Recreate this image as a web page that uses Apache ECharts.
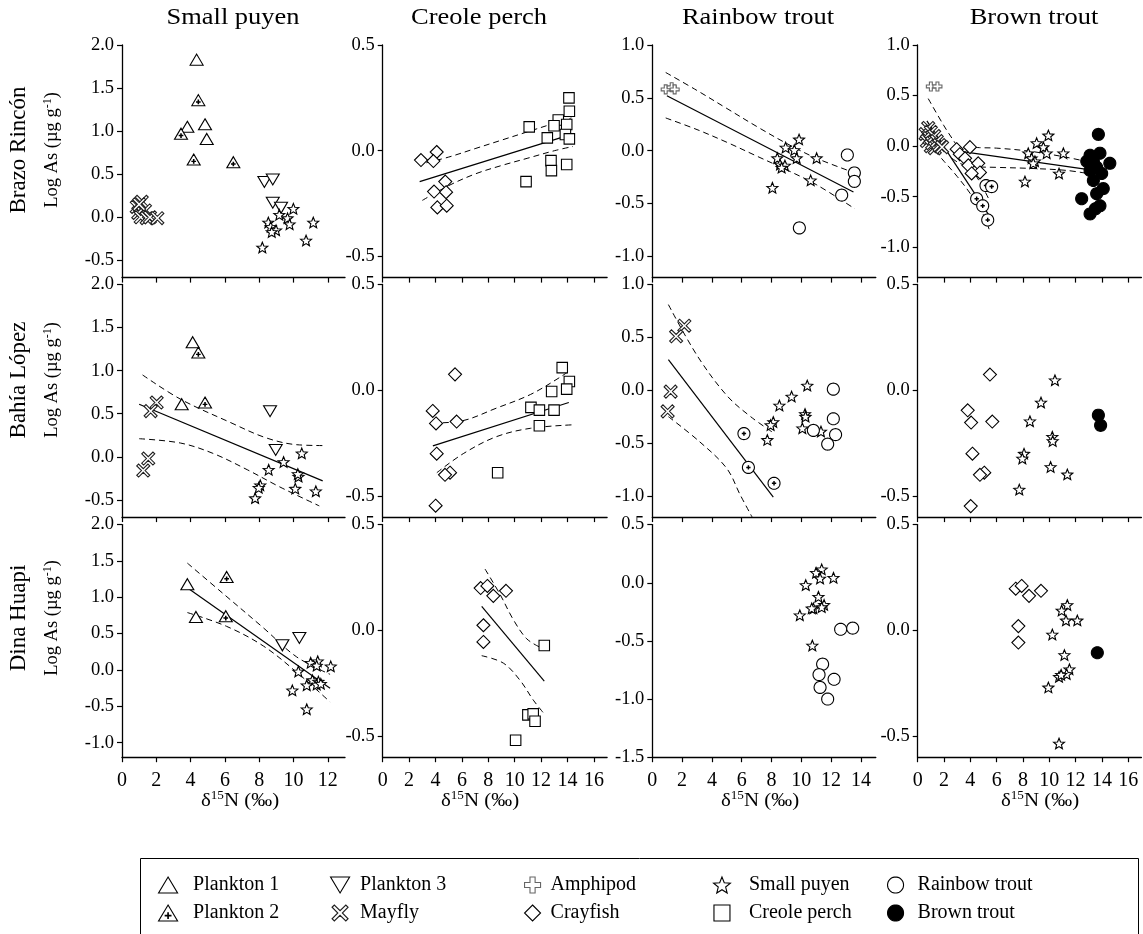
<!DOCTYPE html>
<html><head><meta charset="utf-8">
<script src="https://cdn.jsdelivr.net/npm/echarts@6.0.0/dist/echarts.min.js"></script>
<style>html,body{margin:0;padding:0;background:#fff}#c{width:1143px;height:934px}</style>
</head><body><div id="c"></div>
<script>
// ---------------- DATA (δ15N ‰, Log As) ----------------
// Brazo Rincón
const BR_SP_mayfly = [[0.86,0.12],[1.15,0.18],[0.95,0.05],[1.34,0.08],[1.09,0.0],[1.44,-0.01],[1.63,0.0],[2.06,-0.01],[1.0,0.15]];
const BR_SP_plankton1 = [[4.35,1.83],[3.81,1.05],[4.84,1.08],[4.94,0.91]];
const BR_SP_plankton2 = [[4.45,1.36],[3.44,0.97],[4.18,0.67],[6.49,0.64]];
const BR_SP_plankton3 = [[8.3,0.41],[8.79,0.44],[8.79,0.17],[9.27,0.11]];
const BR_SP_puyen = [[9.99,0.10],[9.17,0.03],[9.65,-0.01],[9.77,-0.08],[8.53,-0.06],[8.67,-0.11],[8.98,-0.15],[8.73,-0.17],[11.15,-0.06],[10.73,-0.27],[8.18,-0.35]];

const BR_CP_crayfish = [[2.9,-0.044],[4.09,-0.006],[3.84,-0.049],[4.74,-0.146],[3.89,-0.193],[4.8,-0.196],[4.14,-0.268],[4.85,-0.26]];
const BR_CP_perch = [[11.1,0.113],[10.86,-0.146],[14.11,0.25],[14.14,0.187],[13.3,0.145],[12.98,0.118],[13.94,0.124],[12.47,0.061],[13.84,0.077],[14.14,0.056],[12.75,-0.047],[12.78,-0.094],[13.94,-0.065]];
const BR_CP_fit = [[2.8,-0.146],[14.3,0.077]];
const BR_CP_upper = [[3.3,-0.057],[5,-0.03],[7,0.01],[9,0.05],[11,0.09],[13,0.13],[14.3,0.155]];
const BR_CP_lower = [[3.0,-0.235],[5,-0.165],[7,-0.11],[9,-0.07],[11,-0.035],[13,0.0],[14.4,0.02]];

const BR_RT_amphipod = [[0.9,0.58],[1.3,0.6],[1.5,0.58]];
const BR_RT_puyen = [[9.85,0.107],[8.95,0.03],[9.53,0.007],[8.39,-0.07],[9.69,-0.07],[11.03,-0.07],[8.57,-0.13],[8.9,-0.14],[8.68,-0.16],[10.63,-0.28],[8.06,-0.35]];
const BR_RT_trout = [[13.09,-0.04],[13.56,-0.21],[13.56,-0.29],[12.71,-0.42],[9.87,-0.73]];
const BR_RT_fit = [[0.98,0.52],[13.5,-0.39]];
const BR_RT_upper = [[0.9,0.74],[3,0.57],[5,0.40],[7,0.23],[9,0.07],[11,-0.07],[13.6,-0.21]];
const BR_RT_lower = [[0.9,0.31],[3,0.20],[5,0.08],[7,-0.05],[9,-0.18],[11,-0.32],[13.6,-0.55]];

const BR_BT_amphipod = [[1.0,0.59],[1.5,0.59]];
const BR_BT_mayfly = [[0.6,0.12],[0.7,0.05],[0.8,0.18],[0.9,0.08],[1.0,0.0],[1.0,0.14],[1.1,0.03],[1.25,0.1],[1.3,-0.02],[1.45,0.05],[1.65,0.01],[1.85,-0.01]];
const BR_BT_crayfish = [[2.96,-0.03],[3.97,-0.01],[3.2,-0.08],[3.6,-0.12],[3.85,-0.19],[4.6,-0.17],[4.73,-0.26],[4.1,-0.27]];
const BR_BT_juvenile = [[5.19,-0.39],[5.62,-0.40],[4.48,-0.52],[4.94,-0.59],[5.32,-0.73]];
const BR_BT_puyen = [[9.93,0.106],[9.04,0.03],[9.55,-0.01],[8.4,-0.07],[9.8,-0.07],[11.07,-0.07],[8.66,-0.12],[8.91,-0.15],[8.78,-0.17],[10.74,-0.27],[8.15,-0.35]];
const BR_BT_brown = [[13.73,0.116],[13.1,-0.09],[13.85,-0.07],[12.85,-0.15],[13.35,-0.15],[14.6,-0.17],[13.6,-0.21],[13.1,-0.24],[13.98,-0.27],[13.35,-0.34],[14.1,-0.42],[13.6,-0.47],[12.46,-0.52],[13.85,-0.59],[13.1,-0.67],[13.5,-0.62]];
const BR_BT_fitA = [[0.7,0.25],[5.5,-0.70]];
const BR_BT_upperA = [[0.8,0.47],[2,0.2],[3,0.0],[4,-0.2],[5,-0.42],[5.5,-0.55]];
const BR_BT_lowerA = [[0.8,0.03],[2,-0.15],[3,-0.3],[4,-0.47],[5,-0.68],[5.5,-0.85]];
const BR_BT_fitB = [[2.6,-0.04],[13.4,-0.24]];
const BR_BT_upperB = [[2.8,0.0],[4.7,-0.015],[6,-0.02],[8.5,-0.05],[11.3,-0.11],[13.1,-0.16]];
const BR_BT_lowerB = [[2.6,-0.12],[3.2,-0.17],[4,-0.2],[6,-0.21],[8.5,-0.22],[11.3,-0.24],[13.35,-0.28]];

// Bahía López
const BL_SP_mayfly = [[2.02,0.63],[1.67,0.53],[1.53,-0.02],[1.24,-0.16]];
const BL_SP_plankton1 = [[4.12,1.33],[3.48,0.61]];
const BL_SP_plankton2 = [[4.45,1.21],[4.84,0.63]];
const BL_SP_plankton3 = [[8.63,0.53],[8.96,0.08]];
const BL_SP_puyen = [[10.48,0.04],[9.42,-0.06],[8.55,-0.15],[10.29,-0.23],[10.25,-0.2],[8.06,-0.33],[7.97,-0.36],[10.1,-0.37],[11.3,-0.4],[7.76,-0.48]];
const BL_SP_fit = [[1.0,0.61],[11.7,-0.28]];
const BL_SP_upper = [[1.2,0.95],[3.4,0.67],[6.3,0.40],[8.4,0.22],[10.2,0.14],[11.9,0.13]];
const BL_SP_lower = [[1.0,0.21],[3.4,0.16],[5.3,0.04],[7.3,-0.15],[9.2,-0.35],[11.5,-0.57]];

const BL_CP_crayfish = [[5.48,0.075],[3.79,-0.098],[4.04,-0.157],[5.6,-0.148],[4.09,-0.30],[5.1,-0.39],[4.72,-0.40],[4.01,-0.546]];
const BL_CP_perch = [[13.6,0.107],[14.14,0.041],[13.94,0.005],[12.8,-0.006],[11.23,-0.081],[11.87,-0.094],[12.98,-0.094],[11.87,-0.168],[8.71,-0.39]];
const BL_CP_fit = [[3.8,-0.263],[14.1,-0.058]];
const BL_CP_upper = [[3.8,-0.155],[6,-0.145],[8.6,-0.085],[11.2,-0.02],[13.4,0.06],[14.1,0.09]];
const BL_CP_lower = [[4.1,-0.39],[6.1,-0.30],[8.6,-0.22],[11.2,-0.18],[14.6,-0.163]];

const BL_RT_mayfly = [[2.15,0.61],[1.6,0.51],[1.23,-0.013],[1.03,-0.2]];
const BL_RT_juvenile = [[6.15,-0.41],[6.45,-0.73],[8.17,-0.88]];
const BL_RT_puyen = [[10.4,0.044],[9.35,-0.06],[8.53,-0.145],[10.25,-0.225],[10.28,-0.25],[8.12,-0.30],[7.94,-0.33],[10.07,-0.36],[11.32,-0.39],[7.72,-0.47]];
const BL_RT_trout = [[12.15,0.01],[12.15,-0.27],[10.81,-0.38],[12.3,-0.42],[11.77,-0.51]];
const BL_RT_fit = [[1.08,0.29],[8.12,-1.01]];
const BL_RT_upper = [[1.08,0.81],[3,0.33],[5,-0.05],[6.6,-0.25],[8.1,-0.40]];
const BL_RT_lower = [[1.08,-0.25],[3.2,-0.49],[5,-0.74],[5.9,-0.99],[6.7,-1.2]];

const BL_BT_crayfish = [[5.49,0.074],[3.8,-0.095],[4.06,-0.153],[5.67,-0.148],[4.16,-0.30],[5.06,-0.39],[4.73,-0.40],[4.03,-0.548]];
const BL_BT_puyen = [[10.43,0.047],[9.37,-0.058],[8.53,-0.147],[10.23,-0.22],[10.26,-0.24],[8.08,-0.30],[7.95,-0.323],[10.1,-0.363],[11.37,-0.398],[7.72,-0.47]];
const BL_BT_brown = [[13.73,-0.118],[13.9,-0.166]];

// Dina Huapi
const DH_SP_plankton1 = [[3.81,1.18],[4.31,0.73]];
const DH_SP_plankton2 = [[6.1,1.28],[6.05,0.74]];
const DH_SP_plankton3 = [[9.35,0.34],[10.34,0.44]];
const DH_SP_puyen = [[11.0,0.10],[11.41,0.12],[11.35,0.06],[12.17,0.05],[10.28,-0.02],[11.1,-0.14],[11.45,-0.16],[11.35,-0.2],[10.77,-0.21],[11.59,-0.19],[9.93,-0.28],[10.77,-0.54]];
const DH_SP_fit = [[3.87,1.12],[12.13,-0.25]];
const DH_SP_upper = [[3.81,1.47],[5.9,1.05],[8.24,0.58],[10.18,0.18],[12.13,-0.06]];
const DH_SP_lower = [[3.81,0.79],[6.1,0.60],[8.24,0.33],[10.18,-0.03],[12.13,-0.44]];

const DH_CP_crayfish = [[7.42,0.2],[7.93,0.21],[8.38,0.163],[9.34,0.187],[7.63,0.024],[7.63,-0.055]];
const DH_CP_perch = [[12.24,-0.072],[11.0,-0.40],[11.4,-0.395],[11.54,-0.43],[10.07,-0.52]];
const DH_CP_fit = [[7.5,0.113],[12.24,-0.24]];
const DH_CP_upper = [[7.75,0.29],[8.89,0.17],[9.9,0.05],[10.91,-0.04],[11.92,-0.08]];
const DH_CP_lower = [[7.5,-0.12],[9.14,-0.155],[10.4,-0.236],[11.41,-0.33],[12.17,-0.39]];

const DH_RT_puyen = [[11.37,0.115],[10.99,0.086],[11.26,0.037],[12.16,0.043],[10.3,-0.02],[11.15,-0.12],[11.53,-0.19],[11.37,-0.21],[10.81,-0.22],[10.7,-0.22],[9.9,-0.28],[10.74,-0.54]];
const DH_RT_trout = [[12.64,-0.40],[13.45,-0.39],[11.43,-0.70],[11.19,-0.79],[12.2,-0.83],[11.26,-0.90],[11.77,-1.0]];

const DH_BT_crayfish = [[7.45,0.197],[7.9,0.21],[8.46,0.163],[9.37,0.187],[7.65,0.02],[7.65,-0.058]];
const DH_BT_puyen = [[11.37,0.12],[10.94,0.094],[11.27,0.047],[12.13,0.047],[10.23,-0.02],[11.15,-0.117],[11.53,-0.184],[11.32,-0.207],[10.74,-0.22],[10.9,-0.21],[9.93,-0.27],[10.74,-0.535]];
const DH_BT_brown = [[13.65,-0.106]];

// Axis ranges and tick labels
const SPECIES = ['Small puyen','Creole perch','Rainbow trout','Brown trout'];
const SITES = ['Brazo Rincón','Bahía López','Dina Huapi'];
const X_MAX = [13, 17, 15, 17];
const X_TICKS = [[0,2,4,6,8,10,12],[0,2,4,6,8,10,12,14,16],[0,2,4,6,8,10,12,14],[0,2,4,6,8,10,12,14,16]];
const Y_MIN = [[-0.7,-0.6,-1.2,-1.3],[-0.7,-0.6,-1.2,-0.6],[-1.2,-0.6,-1.5,-0.6]];
const Y_MAX = [[2.0,0.5,1.0,1.0],[2.0,0.5,1.0,0.5],[2.0,0.5,0.5,0.5]];
const Y_TICKS = [
  [[-0.5,0,0.5,1,1.5,2],[-0.5,0,0.5],[-1,-0.5,0,0.5,1],[-1,-0.5,0,0.5,1]],
  [[-0.5,0,0.5,1,1.5,2],[-0.5,0,0.5],[-1,-0.5,0,0.5,1],[-0.5,0,0.5]],
  [[-1,-0.5,0,0.5,1,1.5,2],[-0.5,0,0.5],[-1.5,-1,-0.5,0,0.5],[-0.5,0,0.5]]
];
const LEGEND_COLS = [['Plankton 1','Plankton 2'],['Plankton 3','Mayfly'],['Amphipod','Crayfish'],['Small puyen','Creole perch'],['Rainbow trout','Brown trout']];

// ---------------- SYMBOLS ----------------
function polyPath(pts){ return pts.map((p,i)=>(i?'L':'M')+p[0].toFixed(1)+','+p[1].toFixed(1)).join(' ')+' Z'; }
const starPts = []; for (let i=0;i<10;i++){ const r=i%2?22:50; const a=-Math.PI/2+i*Math.PI/5; starPts.push([50+r*Math.cos(a),50+r*Math.sin(a)]); }
const circPts = []; for (let i=0;i<40;i++){ const a=i*Math.PI*2/40; circPts.push([50+50*Math.cos(a),50+50*Math.sin(a)]); }
const PLUS_LINES = ' M48.5,38 L48.5,74 M51.5,38 L51.5,74 M32,54.5 L68,54.5 M32,57.5 L68,57.5';
const CPLUS_LINES = ' M48.5,32 L48.5,68 M51.5,32 L51.5,68 M32,48.5 L68,48.5 M32,51.5 L68,51.5';
const SYM = {
  tri: 'path://M50,0 L100,84 L0,84 Z',
  triPlus: 'path://M50,0 L100,84 L0,84 Z' + PLUS_LINES,
  triDown: 'path://M0,0 L100,0 L50,84 Z',
  cross: 'path://' + polyPath([[0,14],[14,0],[50,36],[86,0],[100,14],[64,50],[100,86],[86,100],[50,64],[14,100],[0,86],[36,50]]),
  plus: 'path://' + polyPath([[34,0],[66,0],[66,34],[100,34],[100,66],[66,66],[66,100],[34,100],[34,66],[0,66],[0,34],[34,34]]),
  diamond: 'path://M50,0 L100,50 L50,100 L0,50 Z',
  square: 'path://M0,0 L100,0 L100,100 L0,100 Z',
  star: 'path://' + polyPath(starPts),
  circle: 'path://' + polyPath(circPts),
  circlePlus: 'path://' + polyPath(circPts) + CPLUS_LINES
};
const GROUP_STYLE = {
  'Plankton 1': {symbol: SYM.tri, size: [13,11], fill: '#fff', stroke: '#000'},
  'Plankton 2': {symbol: SYM.triPlus, size: [13,11], fill: '#fff', stroke: '#000'},
  'Plankton 3': {symbol: SYM.triDown, size: [13,11], fill: '#fff', stroke: '#000'},
  'Mayfly': {symbol: SYM.cross, size: [13,13], fill: '#fff', stroke: '#1e1e1e'},
  'Amphipod': {symbol: SYM.plus, size: [9,9], fill: '#fff', stroke: '#666'},
  'Crayfish': {symbol: SYM.diamond, size: [13,13], fill: '#fff', stroke: '#000'},
  'Small puyen': {symbol: SYM.star, size: [11,10.5], fill: '#fff', stroke: '#000'},
  'Creole perch': {symbol: SYM.square, size: [10.5,10.5], fill: '#fff', stroke: '#000'},
  'Rainbow trout': {symbol: SYM.circle, size: [12,12], fill: '#fff', stroke: '#000'},
  'Brown trout': {symbol: SYM.circle, size: [12,12], fill: '#000', stroke: '#000'},
  'Juvenile trout': {symbol: SYM.circlePlus, size: [12,12], fill: '#fff', stroke: '#000'}
};

// ---------------- PANELS ----------------
const panels = [
  {r:0,c:0, groups:[['Mayfly',BR_SP_mayfly],['Plankton 1',BR_SP_plankton1],['Plankton 2',BR_SP_plankton2],['Plankton 3',BR_SP_plankton3],['Small puyen',BR_SP_puyen]], fits:[]},
  {r:0,c:1, groups:[['Crayfish',BR_CP_crayfish],['Creole perch',BR_CP_perch]], fits:[[BR_CP_fit,BR_CP_upper,BR_CP_lower]]},
  {r:0,c:2, groups:[['Amphipod',BR_RT_amphipod],['Small puyen',BR_RT_puyen],['Rainbow trout',BR_RT_trout]], fits:[[BR_RT_fit,BR_RT_upper,BR_RT_lower]]},
  {r:0,c:3, groups:[['Amphipod',BR_BT_amphipod],['Mayfly',BR_BT_mayfly],['Crayfish',BR_BT_crayfish],['Juvenile trout',BR_BT_juvenile],['Small puyen',BR_BT_puyen],['Brown trout',BR_BT_brown]], fits:[[BR_BT_fitA,BR_BT_upperA,BR_BT_lowerA],[BR_BT_fitB,BR_BT_upperB,BR_BT_lowerB]]},
  {r:1,c:0, groups:[['Mayfly',BL_SP_mayfly],['Plankton 1',BL_SP_plankton1],['Plankton 2',BL_SP_plankton2],['Plankton 3',BL_SP_plankton3],['Small puyen',BL_SP_puyen]], fits:[[BL_SP_fit,BL_SP_upper,BL_SP_lower]]},
  {r:1,c:1, groups:[['Crayfish',BL_CP_crayfish],['Creole perch',BL_CP_perch]], fits:[[BL_CP_fit,BL_CP_upper,BL_CP_lower]]},
  {r:1,c:2, groups:[['Mayfly',BL_RT_mayfly],['Juvenile trout',BL_RT_juvenile],['Small puyen',BL_RT_puyen],['Rainbow trout',BL_RT_trout]], fits:[[BL_RT_fit,BL_RT_upper,BL_RT_lower]]},
  {r:1,c:3, groups:[['Crayfish',BL_BT_crayfish],['Small puyen',BL_BT_puyen],['Brown trout',BL_BT_brown]], fits:[]},
  {r:2,c:0, groups:[['Plankton 1',DH_SP_plankton1],['Plankton 2',DH_SP_plankton2],['Plankton 3',DH_SP_plankton3],['Small puyen',DH_SP_puyen]], fits:[[DH_SP_fit,DH_SP_upper,DH_SP_lower]]},
  {r:2,c:1, groups:[['Crayfish',DH_CP_crayfish],['Creole perch',DH_CP_perch]], fits:[[DH_CP_fit,DH_CP_upper,DH_CP_lower]]},
  {r:2,c:2, groups:[['Small puyen',DH_RT_puyen],['Rainbow trout',DH_RT_trout]], fits:[]},
  {r:2,c:3, groups:[['Crayfish',DH_BT_crayfish],['Small puyen',DH_BT_puyen],['Brown trout',DH_BT_brown]], fits:[]}
];

// ---------------- LAYOUT ----------------
const FONT = 'Liberation Serif';
const COL_LEFT = [122, 382.7, 652.3, 917.7];
const COL_WIDTH = [223, 224.4, 223.5, 223.7];
const ROW_TOP = [45, 284.5, 524.6];
const ROW_HEIGHT = 232.6;

const grids = [], xAxes = [], yAxes = [], series = [];
for (let r = 0; r < 3; r++) for (let c = 0; c < 4; c++) {
  const i = r * 4 + c;
  grids.push({left: COL_LEFT[c], top: ROW_TOP[r], width: COL_WIDTH[c], height: ROW_HEIGHT});
  xAxes.push({type: 'value', gridIndex: i, min: 0, max: X_MAX[c],
    axisLine: {show: true, onZero: false, lineStyle: {color: '#000', width: 1.3}},
    axisTick: {show: true, inside: false, length: 5, customValues: X_TICKS[c], lineStyle: {color: '#000', width: 1.2}},
    axisLabel: {show: r === 2, customValues: X_TICKS[c], margin: 14, fontSize: 20, fontFamily: FONT, color: '#000'},
    splitLine: {show: false}});
  yAxes.push({type: 'value', gridIndex: i, min: Y_MIN[r][c], max: Y_MAX[r][c],
    axisLine: {show: true, onZero: false, lineStyle: {color: '#000', width: 1.3}},
    axisTick: {show: true, inside: false, length: 5, customValues: Y_TICKS[r][c], lineStyle: {color: '#000', width: 1.2}},
    axisLabel: {show: true, customValues: Y_TICKS[r][c], margin: 8, fontSize: 18.5, fontFamily: FONT, color: '#000', formatter: v => Number(v).toFixed(1)},
    splitLine: {show: false}});
}
function lineSeries(data, idx, dashed) {
  return {type: 'line', xAxisIndex: idx, yAxisIndex: idx, data: data, showSymbol: false, symbol: 'none',
    smooth: dashed ? 0.35 : false, silent: true, z: 2, animation: false,
    lineStyle: {color: '#000', width: dashed ? 1 : 1.2, type: dashed ? [6, 4] : 'solid'},
    emphasis: {disabled: true}};
}
panels.forEach(p => {
  const idx = p.r * 4 + p.c;
  p.fits.forEach(f => {
    series.push(lineSeries(f[0], idx, false));
    series.push(lineSeries(f[1], idx, true));
    series.push(lineSeries(f[2], idx, true));
  });
  p.groups.forEach(([name, data]) => {
    const g = GROUP_STYLE[name];
    series.push({type: 'scatter', name: name, xAxisIndex: idx, yAxisIndex: idx, data: data,
      symbol: g.symbol, symbolSize: g.size, z: 3,
      itemStyle: {color: g.fill, borderColor: g.stroke, borderWidth: 1.1, opacity: 1},
      emphasis: {disabled: true}});
  });
});

// Legend: five columns of two entries
const LEG_LEFT = [158, 330, 524, 713, 887];
const LEG_ITEMW = [40, 30, 26, 44, 34];
const legends = LEGEND_COLS.map((names, k) => ({
  data: names, orient: 'vertical', left: LEG_LEFT[k], top: 875,
  itemWidth: LEG_ITEMW[k], itemHeight: 16, itemGap: 8, padding: 0, selectedMode: false,
  symbolKeepAspect: true,
  itemStyle: {borderWidth: 1.1},
  textStyle: {fontFamily: FONT, fontSize: 20, color: '#000'}
}));

// Text graphics
const graphics = [];
const TITLE_X = [233, 479, 758, 1034];
SPECIES.forEach((s, k) => graphics.push({type: 'text', x: TITLE_X[k], y: 18, scaleX: 1.15,
  style: {text: s, fontFamily: FONT, fontSize: 23, fill: '#000', align: 'center', verticalAlign: 'middle', textAlign: 'center', textVerticalAlign: 'middle'}}));
const ROW_CY = [150, 380, 618];
SITES.forEach((s, k) => {
  graphics.push({type: 'text', x: 19, y: ROW_CY[k], rotation: Math.PI / 2,
    style: {text: s, fontFamily: FONT, fontSize: 23, fill: '#000', align: 'center', verticalAlign: 'middle', textAlign: 'center', textVerticalAlign: 'middle'}});
  graphics.push({type: 'text', x: 52, y: ROW_CY[k], rotation: Math.PI / 2,
    style: {text: '{a|Log As (µg g}{s|-1}{a|)}', align: 'center', verticalAlign: 'middle', textAlign: 'center', textVerticalAlign: 'middle',
      rich: {a: {fontFamily: FONT, fontSize: 18.5, fill: '#000', lineHeight: 21}, s: {fontFamily: FONT, fontSize: 12, fill: '#000', lineHeight: 12, verticalAlign: 'top'}}}});
});
const XNAME_X = [240, 480, 760, 1040];
XNAME_X.forEach(x => graphics.push({type: 'text', x: x, y: 801, scaleX: 1.1,
  style: {text: '{a|δ}{s|15}{a|N (‰)}', align: 'center', verticalAlign: 'middle', textAlign: 'center', textVerticalAlign: 'middle',
    rich: {a: {fontFamily: FONT, fontSize: 19, fill: '#000', lineHeight: 22}, s: {fontFamily: FONT, fontSize: 12, fill: '#000', lineHeight: 12, verticalAlign: 'top'}}}}));
graphics.push({type: 'rect', shape: {x: 140.5, y: 858.5, width: 998, height: 100}, style: {fill: 'none', stroke: '#000', lineWidth: 1}, silent: true});

const chart = echarts.init(document.getElementById('c'), null, {renderer: 'canvas'});
chart.setOption({
  backgroundColor: '#fff',
  animation: false,
  grid: grids, xAxis: xAxes, yAxis: yAxes,
  legend: legends,
  graphic: graphics,
  series: series
});
</script></body></html>
